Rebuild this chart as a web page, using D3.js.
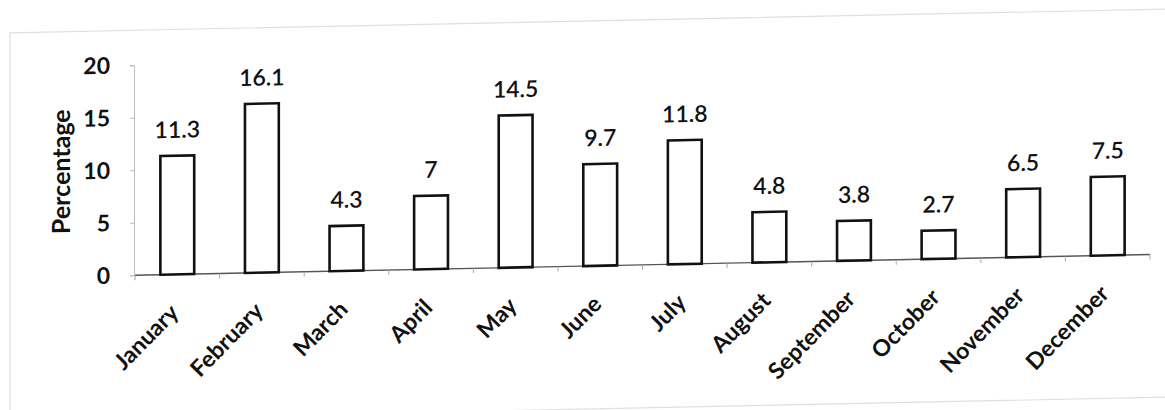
<!DOCTYPE html>
<html>
<head>
<meta charset="utf-8">
<script src="https://cdn.jsdelivr.net/npm/d3@7"></script>
<style>
  body { margin: 0; background: #fff; }
  text { font-family: Lato, "Open Sans", sans-serif; fill: #111; }
</style>
</head>
<body>
<svg id="chart" width="1165" height="410"></svg>
<script>
// Monthly share (%) of the yearly total
const months = ["January", "February", "March", "April", "May", "June",
                "July", "August", "September", "October", "November", "December"];
const percentages = [11.3, 16.1, 4.3, 7, 14.5, 9.7, 11.8, 4.8, 3.8, 2.7, 6.5, 7.5];
const yTicks = [0, 5, 10, 15, 20];

const W = 1165, H = 410;
const svg = d3.select("#chart");
svg.append("rect").attr("width", W).attr("height", H).attr("fill", "#fff");

// The printed page sits at a slight slant
const g = svg.append("g").attr("transform", "skewY(-1.17)");

// Faint chart frame
g.append("rect")
  .attr("x", 10).attr("y", 33).attr("width", 1220).attr("height", 388)
  .attr("fill", "none").attr("stroke", "#e0e0e0").attr("stroke-width", 1.2);

const x = d3.scaleBand()
  .domain(months)
  .range([135, 1150])
  .paddingInner(0.6)
  .paddingOuter(0.3);

const y = d3.scaleLinear().domain([0, 20]).range([278, 68]);

// Y axis
const yAxis = g.append("g")
  .attr("transform", "translate(134,0)")
  .call(d3.axisLeft(y).tickValues(yTicks).tickSize(4).tickPadding(20));
yAxis.select(".domain").attr("stroke", "#bdbdbd").attr("stroke-width", 1);
yAxis.selectAll(".tick line").attr("stroke", "#bdbdbd");
yAxis.selectAll(".tick text")
  .style("font-size", "23px").style("font-weight", "700").attr("fill", "#111");

// Y axis title
g.append("text")
  .attr("transform", `translate(61,${(y(0) + y(20)) / 2}) rotate(-90)`)
  .attr("text-anchor", "middle")
  .attr("dy", "0.35em")
  .style("font-size", "25px").style("font-weight", "700")
  .text("Percentage");

// X axis line with tick marks on category boundaries
const x0 = x.range()[0], x1 = x.range()[1];
g.append("line")
  .attr("x1", x0).attr("x2", x1).attr("y1", y(0)).attr("y2", y(0))
  .attr("stroke", "#555").attr("stroke-width", 1.4);
const boundaries = months.map(m => x(m) - x.step() * x.paddingOuter());
boundaries.push(x1);
g.selectAll(".bound").data(boundaries).join("line")
  .attr("class", "bound")
  .attr("x1", d => d).attr("x2", d => d)
  .attr("y1", y(0)).attr("y2", y(0) + 5)
  .attr("stroke", "#aaa").attr("stroke-width", 1);

// Category labels, rotated
const xAxis = g.append("g")
  .attr("transform", `translate(0,${y(0)})`)
  .call(d3.axisBottom(x).tickSize(0));
xAxis.select(".domain").remove();
xAxis.selectAll(".tick text")
  .attr("x", 0).attr("y", 0).attr("dy", "0.35em")
  .attr("text-anchor", "end")
  .attr("transform", "translate(-3,34) rotate(-45)")
  .style("font-size", "23px").style("font-weight", "700").attr("fill", "#111");

// Bars
g.selectAll(".bar").data(percentages).join("rect")
  .attr("class", "bar")
  .attr("x", (d, i) => x(months[i]))
  .attr("width", x.bandwidth())
  .attr("y", d => y(d))
  .attr("height", d => y(0) - y(d))
  .attr("fill", "#fff")
  .attr("stroke", "#111")
  .attr("stroke-width", 2.6);

// Value labels
g.selectAll(".val").data(percentages).join("text")
  .attr("class", "val")
  .attr("x", (d, i) => x(months[i]) + x.bandwidth() / 2)
  .attr("y", d => y(d) - 18)
  .attr("text-anchor", "middle")
  .style("font-size", "23px").style("font-weight", "600")
  .text(d => d);
</script>
</body>
</html>
